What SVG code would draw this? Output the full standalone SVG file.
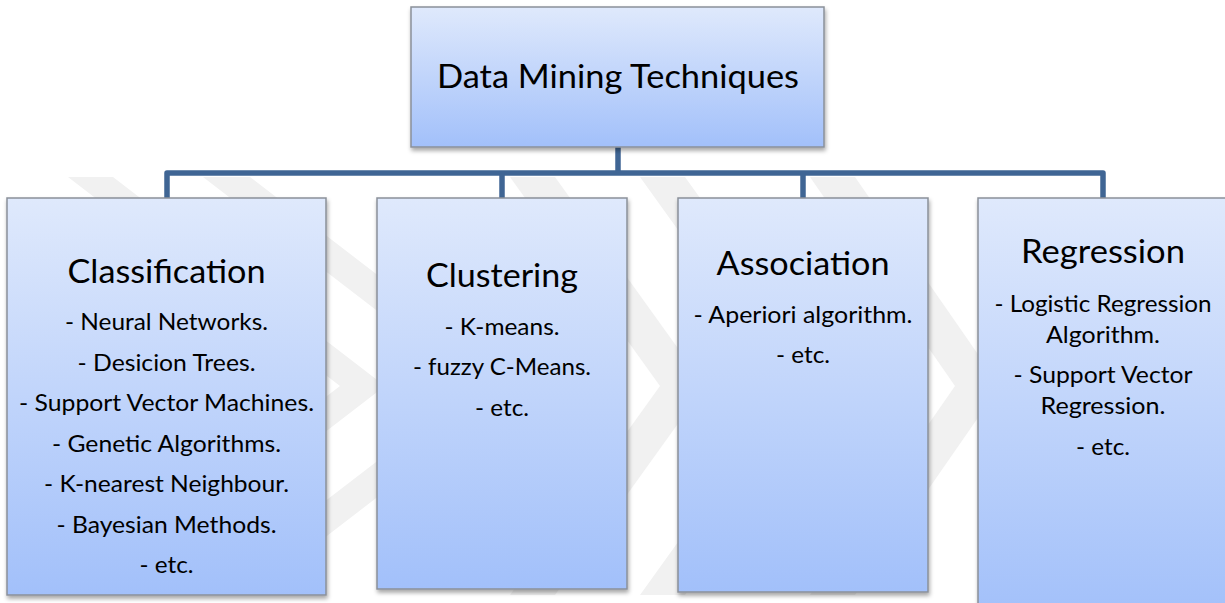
<svg xmlns="http://www.w3.org/2000/svg" width="1225" height="603" viewBox="0 0 1225 603">
<style>
.box{fill:url(#g);stroke:#8a9099;stroke-width:1.5;filter:url(#sh)}
.h{font-family:Lato,"Open Sans",sans-serif;font-size:33.5px;fill:#000;text-anchor:middle}
.t{font-family:Lato,"Open Sans",sans-serif;font-size:24px;fill:#000;text-anchor:middle}
.c{fill:none;stroke:#3f6594;stroke-width:5.5;stroke-linejoin:round}
.wm{fill:#f1f1f1}
</style>
<defs>
<linearGradient id="g" x1="0" y1="0" x2="0" y2="1">
<stop offset="0" stop-color="#dfe9fc"/>
<stop offset="1" stop-color="#a2c0fa"/>
</linearGradient>
<filter id="sh" x="-10%" y="-10%" width="125%" height="125%">
<feDropShadow dx="1" dy="3" stdDeviation="2" flood-color="#000" flood-opacity="0.35"/>
</filter>
</defs>
<rect width="1225" height="603" fill="#fff"/>
<g id="watermark">
<polygon class="wm" points="68,177 113,177 385,386 113,595 68,595 340,386"/>
<polygon class="wm" points="203,177 250,177 522,386 250,595 203,595 475,386"/>
<polygon class="wm" points="555,177 510,177 660,386 510,595 555,595 705,386"/>
<polygon class="wm" points="685,177 640,177 790,386 640,595 685,595 835,386"/>
<polygon class="wm" points="810,177 855,177 1000,386 855,595 810,595 955,386"/>
</g>
<g id="connectors">
<path class="c" d="M618,147 V173"/>
<path class="c" d="M167,198 V173 H1103 V198"/>
<path class="c" d="M502,173 V198"/>
<path class="c" d="M803,173 V198"/>
</g>
<g id="root">
<rect class="box" x="411" y="7" width="413" height="140"/>
<text class="h" x="618" y="88" textLength="362" lengthAdjust="spacingAndGlyphs">Data Mining Techniques</text>
</g>
<g id="classification">
<rect class="box" x="7" y="198" width="319" height="397"/>
<text class="h" x="166.5" y="283" textLength="198" lengthAdjust="spacingAndGlyphs">Classification</text>
<text class="t" x="166.5" y="330" textLength="203" lengthAdjust="spacingAndGlyphs">- Neural Networks.</text>
<text class="t" x="166.5" y="371" textLength="178" lengthAdjust="spacingAndGlyphs">- Desicion Trees.</text>
<text class="t" x="166.5" y="411" textLength="295" lengthAdjust="spacingAndGlyphs">- Support Vector Machines.</text>
<text class="t" x="166.5" y="452" textLength="229" lengthAdjust="spacingAndGlyphs">- Genetic Algorithms.</text>
<text class="t" x="166.5" y="492" textLength="245" lengthAdjust="spacingAndGlyphs">- K-nearest Neighbour.</text>
<text class="t" x="166.5" y="533" textLength="220" lengthAdjust="spacingAndGlyphs">- Bayesian Methods.</text>
<text class="t" x="166.5" y="573" textLength="54" lengthAdjust="spacingAndGlyphs">- etc.</text>
</g>
<g id="clustering">
<rect class="box" x="377" y="198" width="250" height="391"/>
<text class="h" x="502" y="287" textLength="152" lengthAdjust="spacingAndGlyphs">Clustering</text>
<text class="t" x="502" y="335" textLength="115" lengthAdjust="spacingAndGlyphs">- K-means.</text>
<text class="t" x="502" y="375" textLength="178" lengthAdjust="spacingAndGlyphs">- fuzzy C-Means.</text>
<text class="t" x="502" y="416" textLength="54" lengthAdjust="spacingAndGlyphs">- etc.</text>
</g>
<g id="association">
<rect class="box" x="678" y="198" width="250" height="394"/>
<text class="h" x="803" y="275" textLength="173" lengthAdjust="spacingAndGlyphs">Association</text>
<text class="t" x="803" y="323" textLength="219" lengthAdjust="spacingAndGlyphs">- Aperiori algorithm.</text>
<text class="t" x="803" y="363" textLength="54" lengthAdjust="spacingAndGlyphs">- etc.</text>
</g>
<g id="regression">
<rect class="box" x="978" y="198" width="250" height="420"/>
<text class="h" x="1103" y="263" textLength="164" lengthAdjust="spacingAndGlyphs">Regression</text>
<text class="t" x="1103" y="312" textLength="217" lengthAdjust="spacingAndGlyphs">- Logistic Regression</text>
<text class="t" x="1103" y="343" textLength="114" lengthAdjust="spacingAndGlyphs">Algorithm.</text>
<text class="t" x="1103" y="383" textLength="179" lengthAdjust="spacingAndGlyphs">- Support Vector</text>
<text class="t" x="1103" y="414" textLength="125" lengthAdjust="spacingAndGlyphs">Regression.</text>
<text class="t" x="1103" y="455" textLength="54" lengthAdjust="spacingAndGlyphs">- etc.</text>
</g>
</svg>
